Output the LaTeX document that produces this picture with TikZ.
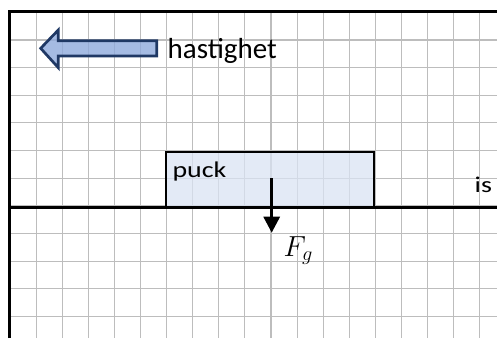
\RequirePackage{fix-cm}
\documentclass[tikz,border=0pt]{standalone}
\usepackage{fontspec}
\setmainfont{Carlito}
\usetikzlibrary{arrows.meta}
\definecolor{gridgray}{HTML}{BDBDBD}
\definecolor{navy}{HTML}{1F3864}
\definecolor{arrowfill}{HTML}{8FAADC}
\definecolor{puckfill}{HTML}{DAE3F3}
\tikzset{
  gridline/.style={draw=gridgray, line width=1.1pt},
  frameline/.style={draw=black, line width=2.8pt},
  axisline/.style={draw=black, line width=2.6pt},
  puckbox/.style={draw=black, line width=2.2pt, fill=puckfill, fill opacity=0.75, draw opacity=1, inner sep=0pt},
  bigarrow/.style={draw=navy, line width=2.7pt, fill=arrowfill, fill opacity=0.8, line join=miter},
  forcearrow/.style={draw=black, line width=3pt, -{Triangle[width=16pt,length=16pt]}},
  labeltext/.style={inner sep=0pt, anchor=base west, text=black},
}
\begin{document}
\begin{tikzpicture}[x=1pt,y=-1pt]
\useasboundingbox (0,0) rectangle (497,338);
% grid
\foreach \k in {1,...,18} { \draw[gridline] ({10+26.1*\k},11.7) -- ({10+26.1*\k},338); }
\foreach \k in {1,...,11} { \draw[gridline] (9.3,{12.3+27.65*\k}) -- (497,{12.3+27.65*\k}); }
% frame
\draw[frameline] (9.3,338) -- (9.3,11.7) -- (497,11.7);
% velocity arrow
\draw[bigarrow] (40.7,48.3) -- (58.3,30) -- (58.3,40.7) -- (156.7,40.7) -- (156.7,56) -- (58.3,56) -- (58.3,67.7) -- cycle;
\node[labeltext, font=\fontsize{29}{34}\selectfont] (hast) at (167.5,58.3) {hastighet};
% puck
\node[puckbox, minimum width=208.3pt, minimum height=54.4pt] (puck) at (269.85,179.5) {};
\node[labeltext, font=\fontsize{22.5}{27}\selectfont] (pucklabel) at (172.3,177.3) {\scalebox{1.24}[1]{puck}};
% surface
\coordinate (axL) at (9.3,207.2);
\coordinate (axR) at (497,207.2);
\draw[axisline] (axL) -- (axR);
\node[labeltext, font=\fontsize{22.5}{27}\selectfont] (is) at (474.5,192.7) {\scalebox{1.24}[1]{is}};
% gravity
\coordinate (fgS) at (271.7,178.3);
\coordinate (fgE) at (271.7,232.7);
\draw[forcearrow] (fgS) -- (fgE);
\node[labeltext, font=\fontsize{29}{34}\selectfont] (fg) at (283.5,256) {$F_g$};
\end{tikzpicture}
\end{document}
